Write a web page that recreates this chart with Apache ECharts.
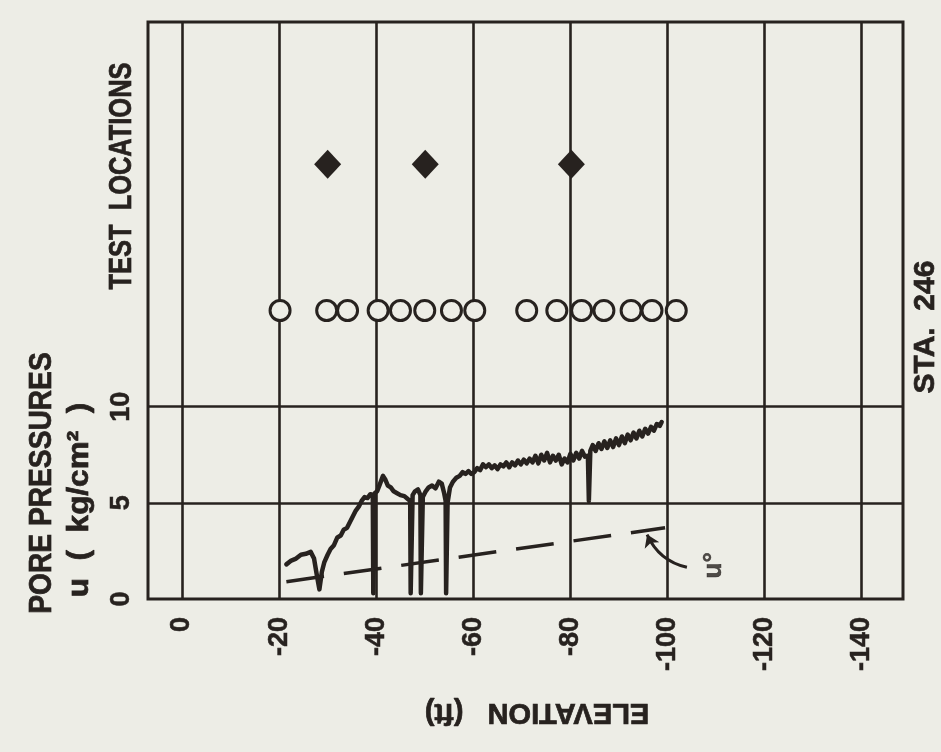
<!DOCTYPE html>
<html><head><meta charset="utf-8">
<script src="https://cdn.jsdelivr.net/npm/echarts@6/dist/echarts.min.js"></script>
<style>html,body{margin:0;padding:0;background:#edede6}#c{width:941px;height:752px}</style>
</head><body><div id="c"></div>
<script>
// ---- data ----
const elevTicks = [0, -20, -40, -60, -80, -100, -120, -140];
const pressureTicks = [0, 5, 10];
const pressureGrid = [5, 10];
// pore pressure trace: [elevation ft, u kg/cm2]
const poreTrace = [
 [-21.5,1.8],[-22.5,2.0],[-23.5,2.1],[-24.5,2.3],[-25.5,2.35],[-26.5,2.45],[-27.2,2.1],[-27.8,1.2],
 [-28.3,0.5],[-28.8,1.4],[-29.3,1.9],[-30.0,2.3],[-30.6,2.6],[-31.3,2.8],[-32.0,3.2],[-32.7,3.3],
 [-33.3,3.6],[-34.0,3.7],[-34.6,4.0],[-35.2,4.3],[-35.8,4.6],[-36.4,4.8],[-37.0,5.1],[-37.6,5.3],
 [-38.2,5.25],[-38.8,5.45],[-39.3,5.4],[-39.4,0.3],[-39.6,0.3],[-39.7,5.5],[-40.2,5.6],[-40.8,6.0],
 [-41.4,6.4],[-41.9,6.2],[-42.4,5.9],[-43.0,5.8],[-43.6,5.6],[-44.3,5.5],[-45.0,5.4],[-45.8,5.35],
 [-46.5,5.2],[-47.0,5.1],[-47.1,0.3],[-47.4,0.3],[-47.5,5.4],[-48.0,5.6],[-48.6,5.7],[-49.1,5.4],
 [-49.2,0.3],[-49.5,0.3],[-49.6,5.3],[-50.2,5.6],[-50.8,5.8],[-51.5,5.9],[-52.2,5.75],[-52.9,6.1],
 [-53.5,6.0],[-54.0,5.5],[-54.3,5.1],[-54.4,0.3],[-54.6,0.3],[-54.7,5.0],[-55.2,5.8],[-55.8,6.1],
 [-56.5,6.3],[-57.2,6.4],[-57.8,6.6],[-58.4,6.5],[-59.0,6.65],[-59.6,6.5],[-60.2,6.6],[-60.8,6.8],
 [-61.4,6.7],[-62.0,7.0],[-62.6,6.85],[-63.2,7.0],[-63.8,6.8],[-64.4,6.95],[-65.0,6.75],[-65.6,7.0],
 [-66.2,6.9],[-66.8,7.1],[-67.4,6.85],[-68.0,7.1],[-68.6,6.95],[-69.2,7.2],[-69.8,7.0],[-70.4,7.25],
 [-71.0,7.05],[-71.6,7.3],[-72.2,7.1],[-72.8,7.45],[-73.4,7.05],[-74.0,7.5],[-74.6,7.2],[-75.2,7.6],
 [-75.8,7.1],[-76.4,7.45],[-77.0,7.2],[-77.6,7.5],[-78.2,7.0],[-78.8,7.3],[-79.4,7.1],[-80.0,7.55],
 [-80.6,7.2],[-81.2,7.6],[-81.8,7.3],[-82.4,7.7],[-83.0,7.4],[-83.6,7.45],[-83.8,5.1],[-84.0,5.1],
 [-84.1,7.7],[-84.6,8.0],[-85.2,7.7],[-85.8,8.1],[-86.4,7.8],[-87.0,8.2],[-87.6,7.85],[-88.2,8.25],
 [-88.8,7.9],[-89.4,8.35],[-90.0,8.0],[-90.6,8.45],[-91.2,8.1],[-91.8,8.55],[-92.4,8.25],[-93.0,8.65],
 [-93.6,8.35],[-94.2,8.75],[-94.8,8.45],[-95.4,8.85],[-96.0,8.6],[-96.6,8.95],[-97.2,8.75],[-97.8,9.1],
 [-98.4,9.0],[-98.8,9.2]
];
const uoElev = [-21.5, -99.5];
const uoPressure = [0.9, 3.7];
const testElev = [-20.2, -29.8, -34.1, -40.4, -45.0, -50.0, -55.5, -60.3, -71.0, -77.2, -82.3, -86.9, -92.5, -96.8, -101.8];
const testLevel = 15;
const diamondElev = [-30.0, -50.1, -80.2];
const diamondLevel = 22.6;
const uoLabelPos = [-109.5, 1.75];
const uoArrow = [[-104.0, 1.65], [-95.8, 3.35]];

// ---- style ----
const ink = '#27221f';
const bg = '#edede6';
const FF = '"Liberation Sans", Arial, sans-serif';
const txt = (text, x, y, rot, size, sx) => ({
  type: 'text', x: x, y: y, rotation: rot, scaleX: sx || 1,
  style: { text: text, font: 'bold ' + size + 'px ' + FF, fill: ink, stroke: ink, lineWidth: 0.7,
    align: 'center', verticalAlign: 'middle', textAlign: 'center', textVerticalAlign: 'middle' }
});
const labelFont = { color: ink, fontSize: 27, fontWeight: 'bold', fontFamily: FF, textBorderColor: ink, textBorderWidth: 0.5 };

const chart = echarts.init(document.getElementById('c'));
chart.setOption({
  animation: false,
  backgroundColor: bg,
  grid: { left: 148, right: 38, top: 22, bottom: 153, show: true, borderColor: ink, borderWidth: 3, backgroundColor: 'transparent' },
  xAxis: {
    type: 'value', min: -148.5, max: 7, inverse: true,
    axisLine: { show: false }, axisTick: { show: false }, splitLine: { show: false },
    axisLabel: Object.assign({ customValues: elevTicks, rotate: 90, margin: 18 }, labelFont)
  },
  yAxis: {
    type: 'value', min: 0, max: 30,
    axisLine: { show: false }, axisTick: { show: false }, splitLine: { show: false },
    axisLabel: Object.assign({ customValues: pressureTicks, rotate: 90, margin: 13 }, labelFont)
  },
  graphic: [
    txt('PORE PRESSURES', 42, 483, Math.PI / 2, 32, 0.88),
    txt('u  (  kg/cm²  )', 80, 500, Math.PI / 2, 30, 1.05),
    txt('TEST  LOCATIONS', 122, 176, Math.PI / 2, 31, 0.82),
    txt('STA.  246', 926, 327, Math.PI / 2, 30, 1),
    txt('ELEVATION   (ft)', 537, 712, Math.PI, 29, 1)
  ],
  series: [
    {
      type: 'line', data: poreTrace, showSymbol: false, symbol: 'none', z: 3,
      lineStyle: { color: ink, width: 4.5, join: 'round', cap: 'round' },
      markLine: {
        silent: true, symbol: 'none', label: { show: false }, z: 1,
        lineStyle: { color: ink, width: 2.6, type: 'solid' },
        data: elevTicks.map(v => ({ xAxis: v })).concat(pressureGrid.map(v => ({ yAxis: v })))
      }
    },
    {
      type: 'line', data: uoElev.map((e, i) => [e, uoPressure[i]]), showSymbol: false, symbol: 'none', z: 3,
      lineStyle: { color: ink, width: 3.5, type: [38, 20] }
    },
    {
      type: 'lines', coordinateSystem: 'cartesian2d', z: 4,
      symbol: ['none', 'arrow'], symbolSize: 12,
      lineStyle: { color: ink, width: 3, curveness: 0.25, opacity: 1 },
      data: [{ coords: uoArrow }]
    },
    {
      type: 'scatter', data: [uoLabelPos], symbol: 'circle', symbolSize: 2, z: 4,
      itemStyle: { color: 'rgba(0,0,0,0)' },
      label: Object.assign({ show: true, formatter: 'u°', rotate: 90, position: 'inside' }, labelFont, { fontSize: 26 })
    },
    {
      type: 'scatter', data: testElev.map(e => [e, testLevel]), symbol: 'circle', symbolSize: 20, z: 5,
      itemStyle: { color: bg, borderColor: ink, borderWidth: 3, opacity: 1 }
    },
    {
      type: 'scatter', data: diamondElev.map(e => [e, diamondLevel]), symbol: 'diamond', symbolSize: [27, 29], z: 5,
      itemStyle: { color: ink, opacity: 1 }
    }
  ]
});
</script></body></html>
